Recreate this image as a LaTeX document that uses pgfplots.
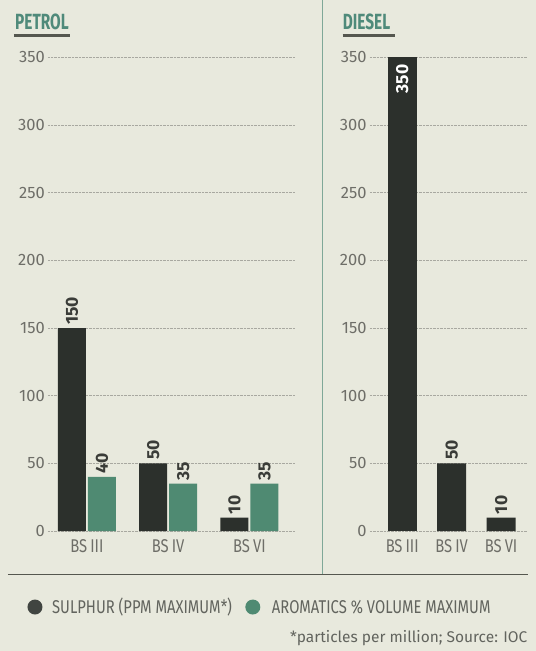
\documentclass[border=0pt]{standalone}
\usepackage{fontspec}
\setmainfont{Fira Sans}
\newfontfamily\cond{Fira Sans}[FakeStretch=0.8]
\newfontfamily\condtitle{Fira Sans}[FakeStretch=0.7]
\usepackage{pgfplots}
\pgfplotsset{compat=1.18}
\definecolor{bg}{HTML}{E8E9DD}
\definecolor{darkbar}{HTML}{2C302C}
\definecolor{greenbar}{HTML}{4F8A72}
\definecolor{titlegreen}{HTML}{4F8A7A}
\definecolor{tickc}{HTML}{6E6E68}
\definecolor{gridc}{HTML}{A8A8A0}
\definecolor{labc}{HTML}{3A3C38}
\definecolor{rulec}{HTML}{55574F}
\definecolor{legc}{HTML}{62645E}
\definecolor{vline}{HTML}{7FA898}
\pgfplotsset{panel/.style={
  scale only axis, height=474pt, ymin=0, ymax=350, ytick={0,50,...,350},
  axis line style={draw=none}, major tick length=0pt,
  ymajorgrids, grid style={densely dotted, color=gridc, line width=0.7pt},
  /pgf/number format/assume math mode=true,
  yticklabel style={font=\fontsize{16.5}{16.5}\selectfont, text=tickc, inner sep=3pt},
  xtick={0,1,2}, xticklabels={BS\,III, BS\,IV, BS\,VI},
  xticklabel style={font=\cond\fontsize{18.5}{18.5}\selectfont, text=tickc, yshift=-5pt},
  ybar, clip=false,
  nodes near coords,
  every node near coord/.append style={rotate=90, anchor=west, font=\bfseries\fontsize{17.5}{17.5}\selectfont, text=labc},
}}
\begin{document}
\begin{tikzpicture}[x=1pt,y=1pt]
\fill[bg] (0,0) rectangle (536,651);
% titles
\node[anchor=base west, inner sep=0, font=\condtitle\bfseries\fontsize{22}{22}\selectfont, text=titlegreen] at (15,622) {PETROL};
\draw[rulec, line width=2.2pt] (14,616) -- (70,616);
\node[anchor=base west, inner sep=0, font=\condtitle\bfseries\fontsize{22}{22}\selectfont, text=titlegreen] at (343,622) {DIESEL};
\draw[rulec, line width=2.2pt] (343,616) -- (395,616);
% dividers
\draw[vline, line width=1pt] (323,651) -- (323,77);
\draw[rulec, line width=1pt] (8,77) -- (528,77);
% petrol
\begin{axis}[panel, at={(48pt,120pt)}, anchor=south west, width=247pt, xmin=-0.48, xmax=2.558]
\addplot[fill=darkbar, draw=none, bar width=28pt, bar shift=-15pt] coordinates {(0,150) (1,50) (2,10)};
\addplot[fill=greenbar, draw=none, bar width=28pt, bar shift=15pt] coordinates {(0,40) (1,35) (2,35)};
\end{axis}
% diesel
\begin{axis}[panel, at={(370pt,120pt)}, anchor=south west, width=158pt, xmin=-0.657, xmax=2.535]
\addplot[fill=darkbar, draw=none, bar width=29pt, bar shift=0pt,
  every node near coord/.append style={anchor=east, text=white, inner sep=7pt}] coordinates {(0,350)};
\addplot[fill=darkbar, draw=none, bar width=29pt, bar shift=0pt] coordinates {(1,50) (2,10)};
\end{axis}
% legend
\fill[darkbar!90] (35,44) circle (7.5);
\node[anchor=west, inner sep=0, font=\cond\fontsize{18.5}{18.5}\selectfont, text=legc] at (52,44) {SULPHUR (PPM MAXIMUM*)};
\fill[greenbar] (253,44) circle (7.5);
\node[anchor=west, inner sep=0, font=\cond\fontsize{18.5}{18.5}\selectfont, text=legc] at (272,44) {AROMATICS \% VOLUME MAXIMUM};
\node[anchor=east, inner sep=0, font=\fontsize{15.5}{15.5}\selectfont, text=legc] at (528,13) {*particles per million; Source: IOC};
\end{tikzpicture}
\end{document}
